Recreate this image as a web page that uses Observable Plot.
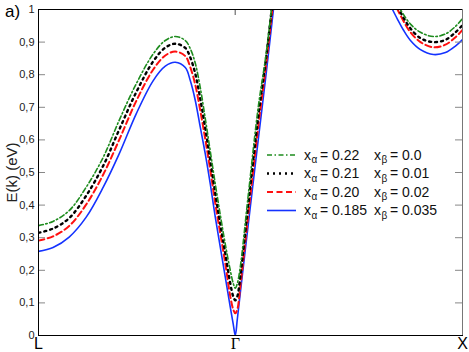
<!DOCTYPE html>
<html><head><meta charset="utf-8">
<script src="https://cdn.jsdelivr.net/npm/d3@7"></script>
<script src="https://cdn.jsdelivr.net/npm/@observablehq/plot@0.6"></script>
<style>
body{margin:0;background:#fff;}
#wrap{position:relative;width:469px;height:352px;font-family:"Liberation Sans",Arial,sans-serif;}
#wrap > svg{display:block;}
.panel{position:absolute;left:5px;top:2px;font-size:17px;color:#000;}
#legend{position:absolute;left:0;top:0;pointer-events:none;}
</style></head><body><div id="wrap"></div>
<script>
// wave vector (L = -0.866, Γ = 0, X = 1); null marks the gap where bands leave the window
const k = [-0.866,-0.802,-0.731,-0.656,-0.581,-0.511,-0.436,-0.361,-0.308,-0.264,-0.220,-0.198,-0.176,-0.154,-0.132,-0.110,-0.088,-0.066,-0.044,-0.022,-0.009,0,0.009,0.022,0.057,0.101,0.137,0.176,0.45,0.692,0.714,0.740,0.771,0.815,0.872,0.925,0.969,1.0];
const eGreen = [0.337,0.350,0.383,0.455,0.547,0.660,0.772,0.864,0.905,0.917,0.905,0.880,0.835,0.760,0.665,0.565,0.465,0.370,0.280,0.200,0.160,0.145,0.160,0.210,0.430,0.700,0.870,1.110,null,1.050,1.015,0.985,0.955,0.930,0.917,0.925,0.948,0.972];
const eBlack = [0.315,0.328,0.360,0.429,0.521,0.631,0.746,0.841,0.883,0.895,0.882,0.853,0.803,0.726,0.635,0.537,0.436,0.342,0.252,0.160,0.120,0.108,0.120,0.180,0.400,0.670,0.860,1.100,null,1.040,1.010,0.975,0.942,0.912,0.900,0.907,0.930,0.952];
const eRed = [0.291,0.304,0.336,0.402,0.494,0.600,0.719,0.816,0.859,0.871,0.857,0.823,0.769,0.690,0.602,0.507,0.405,0.313,0.221,0.120,0.080,0.068,0.080,0.150,0.370,0.640,0.840,1.080,null,1.030,1.000,0.965,0.930,0.900,0.884,0.892,0.915,0.937];
const eBlue = [0.258,0.270,0.302,0.363,0.455,0.557,0.680,0.782,0.826,0.838,0.822,0.782,0.721,0.639,0.557,0.465,0.363,0.271,0.179,0.087,0.035,0.000,0.050,0.130,0.340,0.600,0.810,1.050,null,1.000,0.970,0.937,0.905,0.877,0.862,0.868,0.888,0.908];

const xAlpha = ["0.22","0.21","0.20","0.185"];
const xBeta = ["0.0","0.01","0.02","0.035"];
const colors = ["#1e8c1e","#000000","#ff1010","#1432ff"];
const dashes = ["5,2.5,1.5,2.5","2,4","6,3.5",null];
const widths = [1.6,2.4,2,1.6];

const kTicks = [-0.866, 0, 1];
const kNames = ["L", "Γ", "X"];
const yTicks = [0,0.1,0.2,0.3,0.4,0.5,0.6,0.7,0.8,0.9,1];

const series = [eGreen, eBlack, eRed, eBlue];
const fmt = d3.formatLocale({decimal: ",", thousands: ".", grouping: [3], currency: ["", ""]}).format("~g");

const W = 469, H = 352, mL = 38, mR = 7, mT = 9, mB = 17;
const innerW = W - mL - mR, innerH = H - mT - mB;

const lines = series.map((vals, s) => Plot.line(k.map((kk, i) => ({k: kk, e: vals[i]})), {
  x: "k", y: "e", stroke: colors[s], strokeWidth: widths[s],
  strokeDasharray: dashes[s], curve: "catmull-rom", clip: true
}));

const chart = Plot.plot({
  width: W, height: H,
  marginLeft: mL, marginRight: mR, marginTop: mT, marginBottom: mB,
  style: {fontFamily: "Liberation Sans, Arial, sans-serif", background: "#fff"},
  x: {domain: [-0.866, 1]},
  y: {domain: [0, 1]},
  marks: [
    ...lines.slice().reverse(),
    // inward ticks
    Plot.tickY(yTicks, {y: d => d, insetRight: innerW - 7, stroke: "#888"}),
    Plot.tickY(yTicks, {y: d => d, insetLeft: innerW - 7, stroke: "#888"}),
    Plot.tickX([kTicks[1]], {x: d => d, insetBottom: innerH - 6, stroke: "#888", strokeWidth: 1.5}),
    Plot.axisY({anchor: "left", ticks: yTicks, tickSize: 0, tickPadding: 4, tickFormat: fmt, fontSize: 11, fill: "#222",
      label: "E(k) (eV)", labelAnchor: "center", labelArrow: "none", labelOffset: 32}),
    Plot.axisX({anchor: "bottom", ticks: [kTicks[0], kTicks[2]], tickSize: 0, tickPadding: 2, fontSize: 16,
      tickFormat: d => kNames[kTicks.indexOf(d)], label: null}),
    Plot.axisX({anchor: "bottom", ticks: [kTicks[1]], tickSize: 0, tickPadding: 2, fontSize: 16,
      fontFamily: "Liberation Serif, serif", tickFormat: d => kNames[kTicks.indexOf(d)], label: null}),
    Plot.frame({anchor: "top", stroke: "#000"}),
    Plot.frame({anchor: "right", stroke: "#777"}),
    Plot.frame({anchor: "left", stroke: "#000"}),
    Plot.frame({anchor: "bottom", stroke: "#000"})
  ]
});
const wrap = document.getElementById("wrap");
wrap.appendChild(chart);
chart.querySelectorAll("g[aria-label='y-axis label'] text").forEach(t => t.setAttribute("font-size", 15));

const panel = document.createElement("div");
panel.className = "panel"; panel.textContent = "a)";
wrap.appendChild(panel);

// legend overlay
const NS = "http://www.w3.org/2000/svg";
const leg = document.createElementNS(NS, "svg");
leg.setAttribute("id", "legend"); leg.setAttribute("width", W); leg.setAttribute("height", H);
leg.setAttribute("font-family", "Liberation Sans, Arial, sans-serif");
const rowY = [155, 173.5, 192, 210.5];
let html = "";
xAlpha.forEach((a, i) => {
  const y = rowY[i];
  html += `<line x1="267" x2="296" y1="${y}" y2="${y}" stroke="${colors[i]}" stroke-width="${widths[i]}" ${dashes[i] ? `stroke-dasharray="${dashes[i]}"` : ""}/>`;
  html += `<text y="${y + 4.5}" font-size="14" fill="#111">`
    + `<tspan x="304">x</tspan><tspan x="311.5" dy="3.5" font-size="10">α</tspan>`
    + `<tspan x="320" dy="-3.5">= ${a}</tspan>`
    + `<tspan x="374">x</tspan><tspan x="381.5" dy="3.5" font-size="10">β</tspan>`
    + `<tspan x="390" dy="-3.5">= ${xBeta[i]}</tspan></text>`;
});
leg.innerHTML = html;
wrap.appendChild(leg);
</script>
</body></html>
